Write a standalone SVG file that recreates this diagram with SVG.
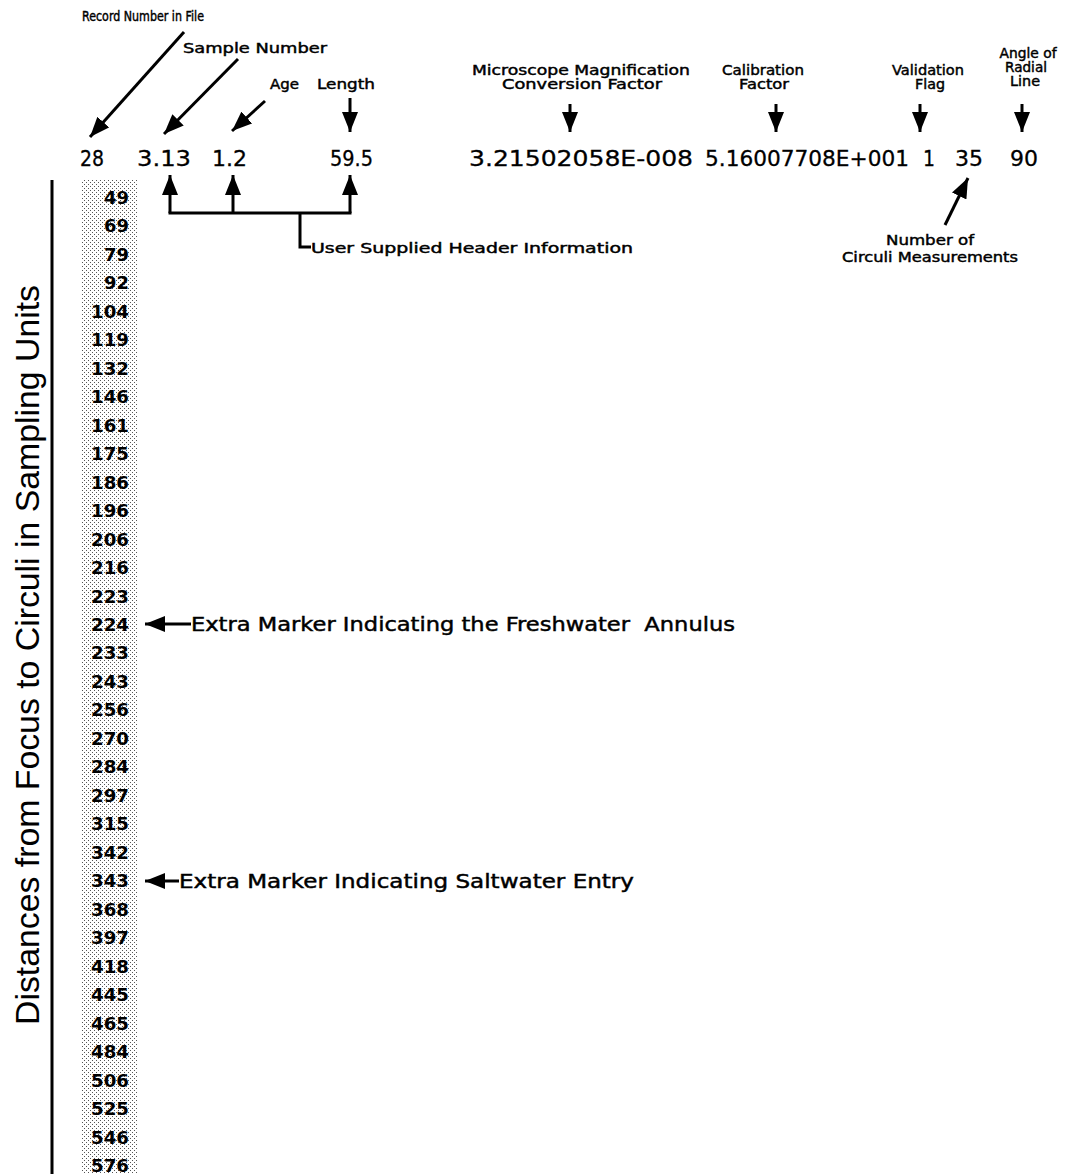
<svg xmlns="http://www.w3.org/2000/svg" width="1065" height="1174" viewBox="0 0 1065 1174">
<defs>
<pattern id="stip" width="4" height="4" patternUnits="userSpaceOnUse">
<rect width="4" height="4" fill="#ffffff"/>
<rect x="0" y="0" width="1" height="1" fill="#555"/>
<rect x="2" y="2" width="1" height="1" fill="#555"/>
</pattern>
<marker id="big" viewBox="0 0 20 16" refX="20" refY="8" markerWidth="20" markerHeight="16" markerUnits="userSpaceOnUse" orient="auto">
<path d="M0,0 L20,8 L0,16 z" fill="#000"/>
</marker>
</defs>
<style>
text{font-family:"DejaVu Sans","Liberation Sans",Arial,sans-serif;fill:#000}
.lab{font-size:14px;stroke:#000;stroke-width:0.45px}
.hdr{font-size:22px;stroke:#000;stroke-width:0.3px}
.col{font-size:18px;font-weight:bold;text-anchor:end}
.note{font-size:19px;white-space:pre;stroke:#000;stroke-width:0.45px}
.c{text-anchor:middle}
.ln{stroke:#000;stroke-width:3;fill:none}
</style>
<rect id="column" x="82" y="180" width="55" height="994" fill="url(#stip)"/>
<g id="axis">
<line x1="52" y1="180" x2="52" y2="1174" stroke="#000" stroke-width="3"/>
<text transform="translate(39,655) rotate(-90)" text-anchor="middle" font-size="34" textLength="740" lengthAdjust="spacingAndGlyphs" style="font-family:'Liberation Sans',Arial,sans-serif">Distances from Focus to Circuli in Sampling Units</text>
</g>
<g id="header-values">
<text class="hdr" x="80" y="166" textLength="24" lengthAdjust="spacingAndGlyphs">28</text>
<text class="hdr" x="137" y="166" textLength="54" lengthAdjust="spacingAndGlyphs">3.13</text>
<text class="hdr" x="212" y="166" textLength="35" lengthAdjust="spacingAndGlyphs">1.2</text>
<text class="hdr" x="330" y="166" textLength="43" lengthAdjust="spacingAndGlyphs">59.5</text>
<text class="hdr" x="469" y="166" textLength="224" lengthAdjust="spacingAndGlyphs">3.21502058E-008</text>
<text class="hdr" x="705" y="166" textLength="204" lengthAdjust="spacingAndGlyphs">5.16007708E+001</text>
<text class="hdr" x="923" y="166" textLength="12" lengthAdjust="spacingAndGlyphs">1</text>
<text class="hdr" x="955" y="166" textLength="28" lengthAdjust="spacingAndGlyphs">35</text>
<text class="hdr" x="1010" y="166" textLength="28" lengthAdjust="spacingAndGlyphs">90</text>
</g>
<g id="label-record"><text class="lab" x="82" y="21" font-size="13.5" textLength="122" lengthAdjust="spacingAndGlyphs">Record Number in File</text></g>
<g id="label-sample"><text class="lab" x="183" y="53" font-size="15" textLength="144" lengthAdjust="spacingAndGlyphs">Sample Number</text></g>
<g id="label-age"><text class="lab" x="270" y="89" font-size="15" textLength="29" lengthAdjust="spacingAndGlyphs">Age</text></g>
<g id="label-length"><text class="lab" x="317" y="89" font-size="15" textLength="58" lengthAdjust="spacingAndGlyphs">Length</text></g>
<g id="label-microscope">
<text class="lab c" x="581" y="75" textLength="218" lengthAdjust="spacingAndGlyphs">Microscope Magnification</text>
<text class="lab c" x="582" y="89" textLength="160" lengthAdjust="spacingAndGlyphs">Conversion Factor</text>
</g>
<g id="label-calibration">
<text class="lab c" x="763" y="75" textLength="82" lengthAdjust="spacingAndGlyphs">Calibration</text>
<text class="lab c" x="764" y="89" textLength="50" lengthAdjust="spacingAndGlyphs">Factor</text>
</g>
<g id="label-validation">
<text class="lab c" x="928" y="75" textLength="72" lengthAdjust="spacingAndGlyphs">Validation</text>
<text class="lab c" x="930" y="89" textLength="30" lengthAdjust="spacingAndGlyphs">Flag</text>
</g>
<g id="label-angle">
<text class="lab c" x="1028" y="58" textLength="57" lengthAdjust="spacingAndGlyphs">Angle of</text>
<text class="lab c" x="1026" y="72" textLength="42" lengthAdjust="spacingAndGlyphs">Radial</text>
<text class="lab c" x="1025" y="86" textLength="30" lengthAdjust="spacingAndGlyphs">Line</text>
</g>
<g id="label-number">
<text class="lab c" x="930" y="245" textLength="88" lengthAdjust="spacingAndGlyphs">Number of</text>
<text class="lab c" x="930" y="262" textLength="176" lengthAdjust="spacingAndGlyphs">Circuli Measurements</text>
</g>
<g id="label-user"><text class="lab" x="311" y="253" font-size="16" textLength="322" lengthAdjust="spacingAndGlyphs">User Supplied Header Information</text></g>
<g id="label-freshwater"><text class="note" x="191" y="631" textLength="544" lengthAdjust="spacingAndGlyphs">Extra Marker Indicating the Freshwater  Annulus</text></g>
<g id="label-saltwater"><text class="note" x="179" y="888" textLength="455" lengthAdjust="spacingAndGlyphs">Extra Marker Indicating Saltwater Entry</text></g>
<g id="column-values">
<text class="col" x="129" y="204" textLength="25" lengthAdjust="spacingAndGlyphs">49</text>
<text class="col" x="129" y="232" textLength="25" lengthAdjust="spacingAndGlyphs">69</text>
<text class="col" x="129" y="261" textLength="25" lengthAdjust="spacingAndGlyphs">79</text>
<text class="col" x="129" y="289" textLength="25" lengthAdjust="spacingAndGlyphs">92</text>
<text class="col" x="129" y="318" textLength="38" lengthAdjust="spacingAndGlyphs">104</text>
<text class="col" x="129" y="346" textLength="38" lengthAdjust="spacingAndGlyphs">119</text>
<text class="col" x="129" y="375" textLength="38" lengthAdjust="spacingAndGlyphs">132</text>
<text class="col" x="129" y="403" textLength="38" lengthAdjust="spacingAndGlyphs">146</text>
<text class="col" x="129" y="432" textLength="38" lengthAdjust="spacingAndGlyphs">161</text>
<text class="col" x="129" y="460" textLength="38" lengthAdjust="spacingAndGlyphs">175</text>
<text class="col" x="129" y="489" textLength="38" lengthAdjust="spacingAndGlyphs">186</text>
<text class="col" x="129" y="517" textLength="38" lengthAdjust="spacingAndGlyphs">196</text>
<text class="col" x="129" y="546" textLength="38" lengthAdjust="spacingAndGlyphs">206</text>
<text class="col" x="129" y="574" textLength="38" lengthAdjust="spacingAndGlyphs">216</text>
<text class="col" x="129" y="603" textLength="38" lengthAdjust="spacingAndGlyphs">223</text>
<text class="col" x="129" y="631" textLength="38" lengthAdjust="spacingAndGlyphs">224</text>
<text class="col" x="129" y="659" textLength="38" lengthAdjust="spacingAndGlyphs">233</text>
<text class="col" x="129" y="688" textLength="38" lengthAdjust="spacingAndGlyphs">243</text>
<text class="col" x="129" y="716" textLength="38" lengthAdjust="spacingAndGlyphs">256</text>
<text class="col" x="129" y="745" textLength="38" lengthAdjust="spacingAndGlyphs">270</text>
<text class="col" x="129" y="773" textLength="38" lengthAdjust="spacingAndGlyphs">284</text>
<text class="col" x="129" y="802" textLength="38" lengthAdjust="spacingAndGlyphs">297</text>
<text class="col" x="129" y="830" textLength="38" lengthAdjust="spacingAndGlyphs">315</text>
<text class="col" x="129" y="859" textLength="38" lengthAdjust="spacingAndGlyphs">342</text>
<text class="col" x="129" y="887" textLength="38" lengthAdjust="spacingAndGlyphs">343</text>
<text class="col" x="129" y="916" textLength="38" lengthAdjust="spacingAndGlyphs">368</text>
<text class="col" x="129" y="944" textLength="38" lengthAdjust="spacingAndGlyphs">397</text>
<text class="col" x="129" y="973" textLength="38" lengthAdjust="spacingAndGlyphs">418</text>
<text class="col" x="129" y="1001" textLength="38" lengthAdjust="spacingAndGlyphs">445</text>
<text class="col" x="129" y="1030" textLength="38" lengthAdjust="spacingAndGlyphs">465</text>
<text class="col" x="129" y="1058" textLength="38" lengthAdjust="spacingAndGlyphs">484</text>
<text class="col" x="129" y="1087" textLength="38" lengthAdjust="spacingAndGlyphs">506</text>
<text class="col" x="129" y="1115" textLength="38" lengthAdjust="spacingAndGlyphs">525</text>
<text class="col" x="129" y="1144" textLength="38" lengthAdjust="spacingAndGlyphs">546</text>
<text class="col" x="129" y="1172" textLength="38" lengthAdjust="spacingAndGlyphs">576</text>
</g>
<g id="connectors">
<line class="ln" x1="184" y1="32" x2="90" y2="137" marker-end="url(#big)"/>
<line class="ln" x1="238" y1="59" x2="164" y2="134" marker-end="url(#big)"/>
<line class="ln" x1="265" y1="101" x2="232" y2="131" marker-end="url(#big)"/>
<line class="ln" x1="350" y1="98" x2="350" y2="132" marker-end="url(#big)"/>
<line class="ln" x1="570" y1="104" x2="570" y2="132" marker-end="url(#big)"/>
<line class="ln" x1="776" y1="104" x2="776" y2="132" marker-end="url(#big)"/>
<line class="ln" x1="920" y1="104" x2="920" y2="132" marker-end="url(#big)"/>
<line class="ln" x1="1022" y1="104" x2="1022" y2="132" marker-end="url(#big)"/>
<line class="ln" x1="945" y1="225" x2="968" y2="178" marker-end="url(#big)"/>
<line class="ln" x1="170" y1="213" x2="170" y2="175" marker-end="url(#big)"/>
<line class="ln" x1="233" y1="213" x2="233" y2="175" marker-end="url(#big)"/>
<line class="ln" x1="350" y1="213" x2="350" y2="175" marker-end="url(#big)"/>
<polyline class="ln" points="168.5,213 351.5,213"/>
<polyline class="ln" points="300,213 300,247 311,247" stroke-width="2.5"/>
<line class="ln" x1="191" y1="624" x2="145" y2="624" stroke-width="2.5" marker-end="url(#big)"/>
<line class="ln" x1="179" y1="881" x2="145" y2="881" stroke-width="2.5" marker-end="url(#big)"/>
</g>
</svg>
